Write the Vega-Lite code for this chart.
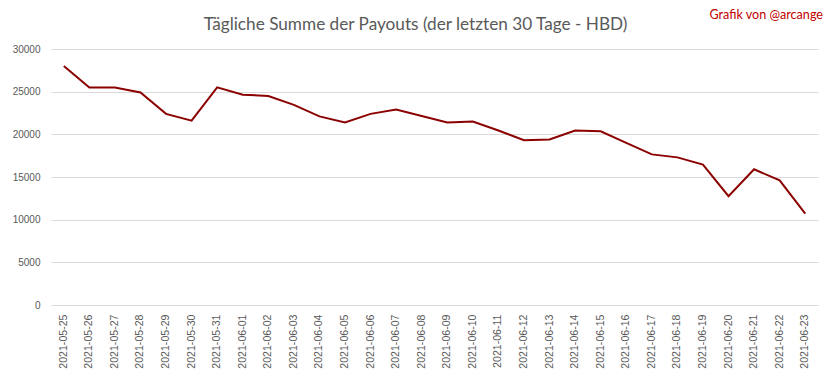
{
  "$schema": "https://vega.github.io/schema/vega-lite/v6.json",
  "autosize": "none",
  "width": 767,
  "height": 256,
  "padding": {"left": 51, "top": 49, "right": 15, "bottom": 74},
  "background": "white",
  "config": {
    "view": {"stroke": null},
    "font": "Liberation Sans",
    "axis": {"labelColor": "#595959", "labelFont": "Liberation Sans", "labelFontSize": 10, "gridColor": "#d9d9d9", "domain": false, "ticks": false}
  },
  "title": {
    "text": "Tägliche Summe der Payouts (der letzten 30 Tage - HBD)",
    "font": "Lato",
    "fontSize": 17.2,
    "fontWeight": "normal",
    "color": "#595959",
    "anchor": "middle",
    "frame": "group",
    "dx": -19,
    "offset": -24
  },
  "layer": [
    {
      "data": {
        "values": [
          {"date": "2021-05-25", "value": 28000},
          {"date": "2021-05-26", "value": 25500},
          {"date": "2021-05-27", "value": 25500},
          {"date": "2021-05-28", "value": 24900},
          {"date": "2021-05-29", "value": 22400},
          {"date": "2021-05-30", "value": 21600},
          {"date": "2021-05-31", "value": 25500},
          {"date": "2021-06-01", "value": 24650},
          {"date": "2021-06-02", "value": 24500},
          {"date": "2021-06-03", "value": 23450},
          {"date": "2021-06-04", "value": 22100},
          {"date": "2021-06-05", "value": 21400},
          {"date": "2021-06-06", "value": 22400},
          {"date": "2021-06-07", "value": 22900},
          {"date": "2021-06-08", "value": 22150},
          {"date": "2021-06-09", "value": 21400},
          {"date": "2021-06-10", "value": 21500},
          {"date": "2021-06-11", "value": 20450},
          {"date": "2021-06-12", "value": 19300},
          {"date": "2021-06-13", "value": 19400},
          {"date": "2021-06-14", "value": 20450},
          {"date": "2021-06-15", "value": 20350},
          {"date": "2021-06-16", "value": 19000},
          {"date": "2021-06-17", "value": 17650},
          {"date": "2021-06-18", "value": 17300},
          {"date": "2021-06-19", "value": 16450},
          {"date": "2021-06-20", "value": 12750},
          {"date": "2021-06-21", "value": 15900},
          {"date": "2021-06-22", "value": 14600},
          {"date": "2021-06-23", "value": 10700}
        ]
      },
      "mark": {"type": "line", "color": "#8b0000", "strokeWidth": 2},
      "encoding": {
        "x": {
          "field": "date", "type": "ordinal", "title": null,
          "scale": {"type": "band", "paddingInner": 0, "paddingOuter": 0},
          "axis": {"labelAngle": -90, "labelPadding": 9, "labelFontSize": 10.6, "grid": false}
        },
        "y": {
          "field": "value", "type": "quantitative", "title": null,
          "scale": {"domain": [0, 30000], "nice": false},
          "axis": {"values": [0, 5000, 10000, 15000, 20000, 25000, 30000], "format": "d", "labelPadding": 11}
        }
      }
    },
    {
      "data": {"values": [{"label": "Grafik von @arcange", "pos": 34000}]},
      "mark": {"type": "text", "align": "right", "baseline": "middle", "dx": 5, "color": "#c00000", "font": "Lato", "fontSize": 12.6, "clip": false},
      "encoding": {
        "x": {"value": "width"},
        "y": {"field": "pos", "type": "quantitative"},
        "text": {"field": "label"}
      }
    }
  ]
}
